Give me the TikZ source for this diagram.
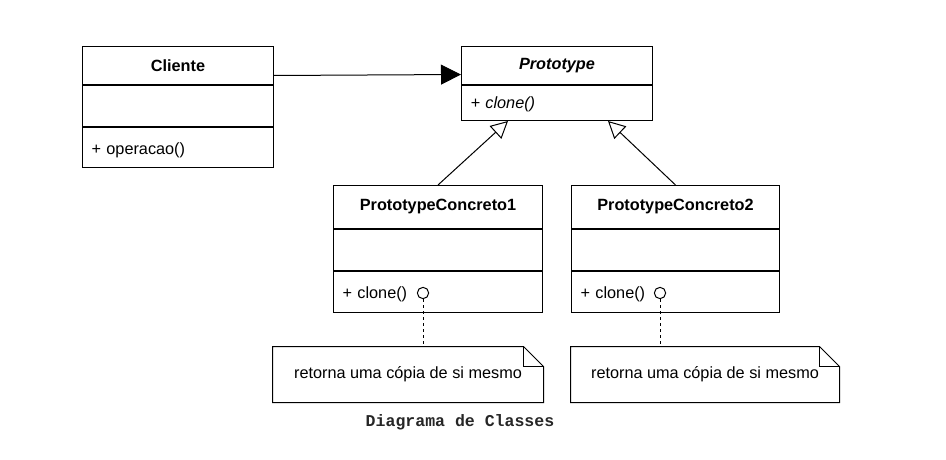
\documentclass[tikz,border=0pt]{standalone}
\usepackage{fontspec}
\setmainfont{Liberation Sans}
\newfontfamily\legendafont{Liberation Mono}
\usetikzlibrary{arrows.meta, positioning, calc}

\begin{document}
\begin{tikzpicture}[
  x=0.75pt, y=-0.75pt,
  line width=0.75pt,
  every node/.style = {font=\fontsize{12.2}{14}\selectfont, line width=0.75pt, inner sep=0pt},
  classtitle/.style = {draw, minimum width={#1*0.75pt}, font=\fontsize{12.2}{14}\selectfont\bfseries},
  attrbox/.style = {draw, minimum width={#1*0.75pt}, minimum height=30.75pt},
  opbox/.style = {draw, inner xsep=6.75pt, text width={(#1-18)*0.75pt}, align=left, text depth=3pt},
  lollipop/.style = {draw, circle, minimum size=8.5pt},
  notebox/.style = {minimum width={#1*0.75pt}, minimum height=41.25pt},
  assoc/.style = {-{Triangle[length=15pt, width=15pt]}},
  inherit/.style = {-{Triangle[open, length=12.75pt, width=13pt]}},
  dep/.style = {dash pattern=on 2.25pt off 2.25pt}
]

% Frame
\useasboundingbox (0,0) rectangle (946,460);

% Cliente
\node[classtitle=191, minimum height=28.5pt, anchor=north west] (clienteT) at (82,46) {Cliente};
\node[attrbox=191, below=0pt of clienteT] (clienteA) {};
\node[opbox=191, minimum height=30pt, text height=14pt, below=0pt of clienteA] (clienteO) {+ operacao()};

% Prototype
\node[classtitle=191, minimum height=28.5pt, anchor=north west,
      font=\fontsize{12.2}{14}\selectfont\bfseries\itshape] (protoT) at (461,46) {Prototype};
\node[opbox=191, minimum height=26.25pt, text height=11pt, below=0pt of protoT,
      font=\fontsize{12.2}{14}\selectfont\itshape] (protoO) {+ clone()};

% PrototypeConcreto1
\node[classtitle=209, minimum height=32.25pt, anchor=north west] (pc1T) at (333,185) {PrototypeConcreto1};
\node[attrbox=209, below=0pt of pc1T] (pc1A) {};
\node[opbox=209, minimum height=30.75pt, text height=13pt, below=0pt of pc1A] (pc1O) {+ clone()};

% PrototypeConcreto2
\node[classtitle=208, minimum height=32.25pt, anchor=north west] (pc2T) at (571,185) {PrototypeConcreto2};
\node[attrbox=208, below=0pt of pc2T] (pc2A) {};
\node[opbox=208, minimum height=30.75pt, text height=13pt, below=0pt of pc2A] (pc2O) {+ clone()};

% Interfaces
\node[lollipop] (iface1) at (423,293) {};
\node[lollipop] (iface2) at (660,293) {};

% Notes
\node[notebox=270] (nota1) at (408,374.5) {retorna uma cópia de si mesmo};
\node[notebox=268] (nota2) at (705,374.5) {retorna uma cópia de si mesmo};
\foreach \n in {nota1, nota2} {
  \draw (\n.north west) -- ([xshift=-15pt]\n.north east) -- ([yshift=-15pt]\n.north east)
        -- (\n.south east) -- (\n.south west) -- cycle;
  \draw ([xshift=-15pt]\n.north east) |- ([yshift=-15pt]\n.north east);
}

% Connectors
\draw[assoc] ([yshift=-7.5pt]clienteT.east) -- ([yshift=-6.75pt]protoT.west);
\draw[inherit] (pc1T.north) -- ([xshift=35.25pt]protoO.south west);
\draw[inherit] (pc2T.north) -- ([xshift=-33.75pt]protoO.south east);
\draw[dep] (iface1.south) -- (iface1.south |- nota1.north);
\draw[dep] (iface2.south) -- (iface2.south |- nota2.north);

% Caption
\node[font=\legendafont\bfseries\fontsize{12.4}{14}\selectfont, text=black!85] (legenda) at (460,422) {Diagrama de Classes};

\end{tikzpicture}
\end{document}
